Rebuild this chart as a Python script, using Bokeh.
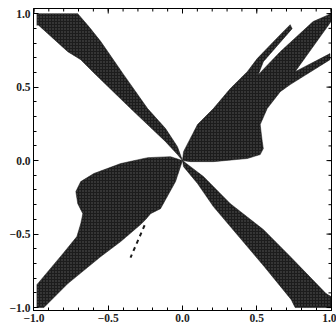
from bokeh.plotting import figure
from bokeh.models import FixedTicker, Range1d
from bokeh.embed import file_html
from bokeh.resources import INLINE

# Region outlines (data coordinates)
band_ul_x = [-0.98, -0.705, -0.625, -0.550, -0.396, -0.235, -0.114, -0.034, 0.0,
             -0.034, -0.114, -0.349, -0.584, -0.685, -0.772, -0.973, -0.98]
band_ul_y = [1.0, 1.0, 0.905, 0.810, 0.585, 0.354, 0.218, 0.095, 0.0,
             0.041, 0.129, 0.354, 0.585, 0.687, 0.741, 0.925, 0.92]

band_lr_x = [0.0, 0.054, 0.141, 0.322, 0.544, 0.725, 0.966, 1.0, 1.0, 0.758,
             0.732, 0.550, 0.436, 0.208, 0.101, 0.007]
band_lr_y = [0.0, -0.041, -0.109, -0.293, -0.469, -0.653, -0.905, -0.925, -1.0, -1.0,
             -0.946, -0.721, -0.585, -0.313, -0.156, -0.041]

lobe_ll_x = [0.0, -0.081, -0.235, -0.416, -0.597, -0.685, -0.718, -0.705, -0.671, -0.685,
             -0.711, -0.805, -0.98, -0.98, -0.933, -0.772, -0.550, -0.416, -0.282, -0.248,
             -0.215, -0.148, -0.047]
lobe_ll_y = [0.0, 0.027, 0.020, -0.020, -0.088, -0.143, -0.211, -0.293, -0.361, -0.429,
             -0.517, -0.633, -0.844, -1.0, -1.0, -0.837, -0.653, -0.551, -0.435, -0.401,
             -0.361, -0.327, -0.143]

fork_ur_x = [0.0, 0.007, 0.101, 0.208, 0.322, 0.436, 0.503, 0.658, 0.725, 0.738, 0.544, 0.510,
             0.658, 0.879, 1.0, 1.0, 0.758, 0.993, 0.993, 0.725, 0.658, 0.570, 0.523, 0.537,
             0.544, 0.523, 0.436, 0.208, 0.054]
fork_ur_y = [0.0, 0.061, 0.245, 0.354, 0.490, 0.605, 0.694, 0.857, 0.925, 0.898, 0.673, 0.585,
             0.741, 0.946, 1.0, 0.946, 0.605, 0.728, 0.687, 0.517, 0.469, 0.354, 0.245, 0.129,
             0.082, 0.041, 0.014, -0.007, -0.007]

spur_x = [-0.255, -0.350]
spur_y = [-0.44, -0.66]

tick_values = [-1.0, -0.5, 0.0, 0.5, 1.0]
tick_labels = ["\u22121.0", "\u22120.5", "0.0", "0.5", "1.0"]
minor_values = [round(-1.0 + 0.1 * i, 1) for i in range(21)]

X0, X1 = -1.003, 1.003
Y0, Y1 = -1.02, 1.035

p = figure(width=336, height=329, output_backend="svg", toolbar_location=None,
           x_range=Range1d(X0, X1), y_range=Range1d(Y0, Y1),
           min_border_left=33, min_border_right=5, min_border_top=8, min_border_bottom=19)
p.grid.visible = False
p.outline_line_color = "black"
p.outline_line_width = 1
p.background_fill_color = "white"

fill = "#1c1c1c"
p.patches([band_ul_x, band_lr_x, lobe_ll_x, fork_ur_x],
          [band_ul_y, band_lr_y, lobe_ll_y, fork_ur_y],
          fill_color=fill, line_color=fill, line_width=0.5,
          hatch_pattern="dot", hatch_color="#5a5a5a", hatch_scale=3, hatch_weight=0.6)
p.line(spur_x, spur_y, line_color=fill, line_width=2, line_dash="4 4")

overrides = {v: t for v, t in zip(tick_values, tick_labels)}
ticker = FixedTicker(ticks=tick_values, minor_ticks=minor_values)

for ax in [p.xaxis[0], p.yaxis[0]]:
    ax.ticker = ticker
    ax.major_label_overrides = overrides
    ax.major_tick_in = 5
    ax.major_tick_out = 0
    ax.minor_tick_in = 3
    ax.minor_tick_out = 0
    ax.major_label_text_font = "Liberation Serif"
    ax.major_label_text_font_size = "11.5px"
    ax.major_label_text_font_style = "bold"
    ax.major_label_text_color = "#222222"
    ax.major_label_standoff = 3
    ax.axis_line_color = "black"

# inward ticks on the top and right frame edges
dx = (X1 - X0) / 298.0
dy = (Y1 - Y0) / 302.0
for vals, L in [(tick_values, 5), (minor_values, 3)]:
    p.segment(x0=vals, x1=vals, y0=[Y1] * len(vals), y1=[Y1 - L * dy] * len(vals),
              line_color="black", line_width=1)
    p.segment(x0=[X1] * len(vals), x1=[X1 - L * dx] * len(vals), y0=vals, y1=vals,
              line_color="black", line_width=1)

open("out.html", "w").write(file_html(p, INLINE))
